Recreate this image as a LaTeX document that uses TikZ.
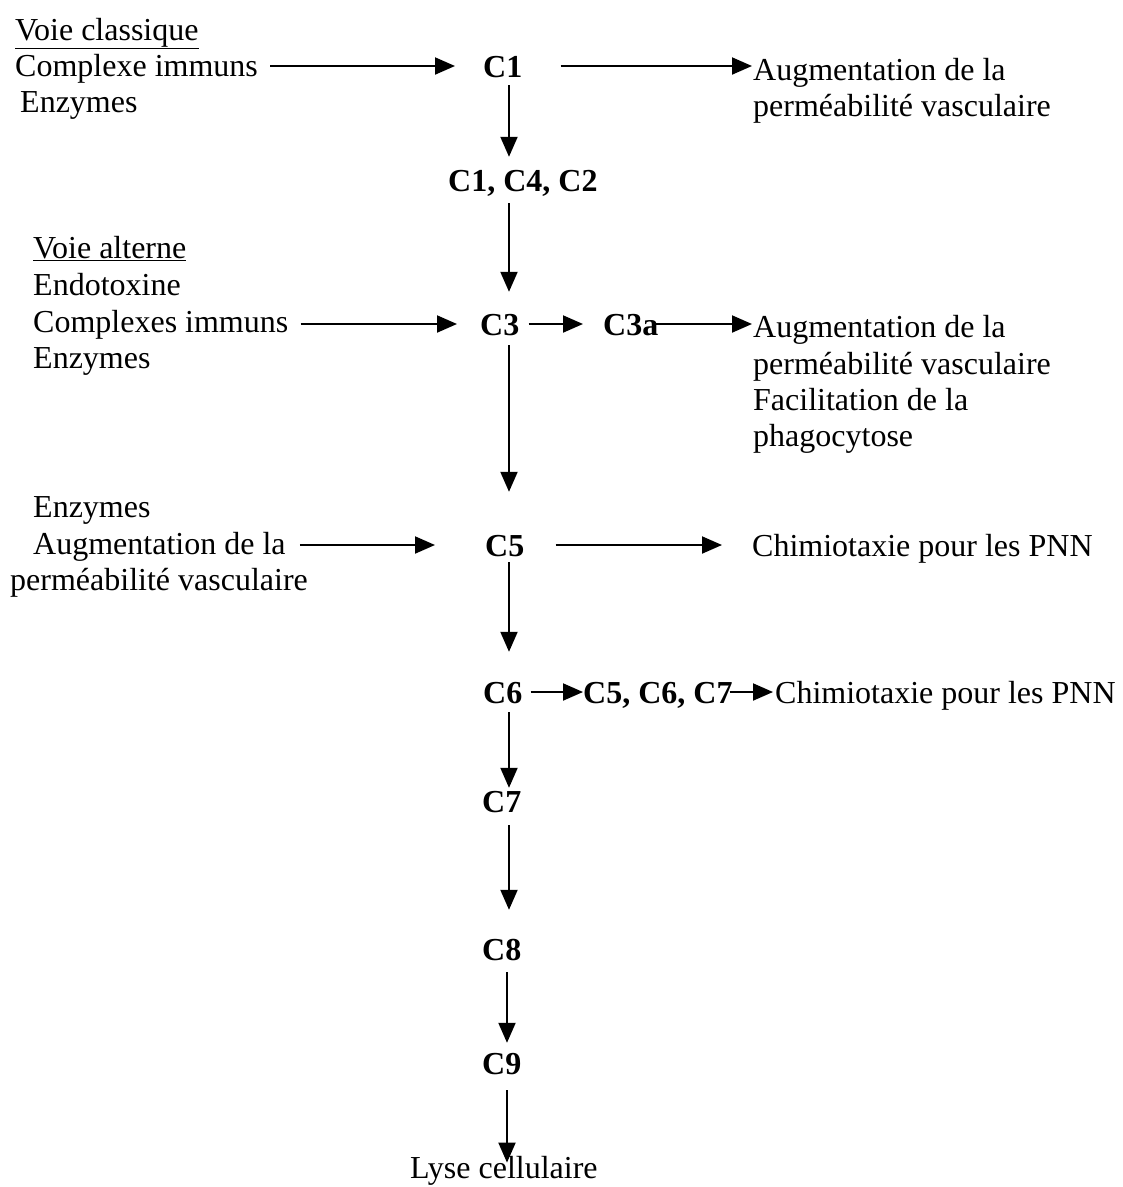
\documentclass[tikz,border=0pt]{standalone}
\usepackage{fontspec}
\setmainfont{Liberation Serif}
\usetikzlibrary{arrows.meta}
\begin{document}
\begin{tikzpicture}[x=1pt,y=-1pt,
  txt/.style={anchor=base west, inner sep=0pt, font=\fontsize{32}{37}\selectfont},
  cnode/.style={txt, font=\fontsize{32}{37}\selectfont\bfseries, text height=22pt, text depth=0pt},
  arr/.style={line width=2pt, -{Triangle[length=20pt,width=17pt]}}]
\useasboundingbox (0,0) rectangle (1123,1187);
\coordinate (col) at (509,0);
\coordinate (col2) at (507,0);
% texts
\node[txt] (vc) at (15,40) {\underline{Voie classique}};
\node[txt] (ci) at (15,76) {Complexe immuns};
\node[txt] (en1) at (20,112) {Enzymes};
\node[cnode] (c1) at (483,77) {C1};
\node[txt] (aug1a) at (753,80) {Augmentation de la};
\node[txt] (aug1b) at (753,116) {perméabilité vasculaire};
\node[cnode] (c142) at (448,191) {C1, C4, C2};
\node[txt] (va) at (33,258) {\underline{Voie alterne}};
\node[txt] (endo) at (33,295) {Endotoxine};
\node[txt] (ci2) at (33,332) {Complexes immuns};
\node[txt] (en2) at (33,368) {Enzymes};
\node[cnode] (c3) at (480,335) {C3};
\node[cnode] (c3a) at (603,335) {C3a};
\node[txt] (aug2a) at (753,337) {Augmentation de la};
\node[txt] (aug2b) at (753,374) {perméabilité vasculaire};
\node[txt] (fac) at (753,410) {Facilitation de la};
\node[txt] (pha) at (753,446) {phagocytose};
\node[txt] (en3) at (33,517) {Enzymes};
\node[txt] (aug3a) at (33,554) {Augmentation de la};
\node[txt] (aug3b) at (10,590) {perméabilité vasculaire};
\node[cnode] (c5) at (485,556) {C5};
\node[txt] (chim1) at (752,556) {Chimiotaxie pour les PNN};
\node[cnode] (c6) at (483,703) {C6};
\node[cnode] (c567) at (583,703) {C5, C6, C7};
\node[txt] (chim2) at (775,703) {Chimiotaxie pour les PNN};
\node[cnode] (c7) at (482,812) {C7};
\node[cnode] (c8) at (482,960) {C8};
\node[cnode] (c9) at (482,1074) {C9};
\node[txt] (lyse) at (410,1178) {Lyse cellulaire};
% arrows
\draw[arr] ([xshift=12pt]ci.east |- c1.west) -- ([xshift=-28pt]c1.west);
\draw[arr] ([xshift=38pt]c1.east) -- ([xshift=-1pt]aug1a.west |- c1.east);
\draw[arr] ([yshift=-8pt]c1.south -| col) -- ([yshift=12pt]c142.north -| col);
\draw[arr] ([yshift=-12pt]c142.south -| col) -- ([yshift=21pt]c3.north -| col);
\draw[arr] ([xshift=12pt]ci2.east |- c3.west) -- ([xshift=-23pt]c3.west);
\draw[arr] ([xshift=9pt]c3.east) -- ([xshift=-20pt]c3a.west);
\draw[arr] ([xshift=-3pt]c3a.east) -- ([xshift=-1pt]aug2a.west |- c3a.east);
\draw[arr] ([yshift=-10pt]c3.south -| col) -- ([yshift=42pt]c5.north -| col);
\draw[arr] ([xshift=14pt]aug3a.east |- c5.west) -- ([xshift=-50pt]c5.west);
\draw[arr] ([xshift=31pt]c5.east) -- ([xshift=-30pt]chim1.west |- c5.east);
\draw[arr] ([yshift=-6pt]c5.south -| col) -- ([yshift=29pt]c6.north -| col);
\draw[arr] ([xshift=8pt]c6.east) -- (c567.west);
\draw[arr] ([xshift=-3pt]c567.east) -- ([xshift=-2pt]chim2.west |- c567.east);
\draw[arr] ([yshift=-9pt]c6.south -| col) -- ([yshift=2pt]c7.north -| col);
\draw[arr] ([yshift=-13pt]c7.south -| col) -- ([yshift=28pt]c8.north -| col);
\draw[arr] ([yshift=-12pt]c8.south -| col2) -- ([yshift=9pt]c9.north -| col2);
\draw[arr] ([yshift=-16pt]c9.south -| col2) -- ([yshift=-7pt]lyse.north -| col2);
\end{tikzpicture}
\end{document}
